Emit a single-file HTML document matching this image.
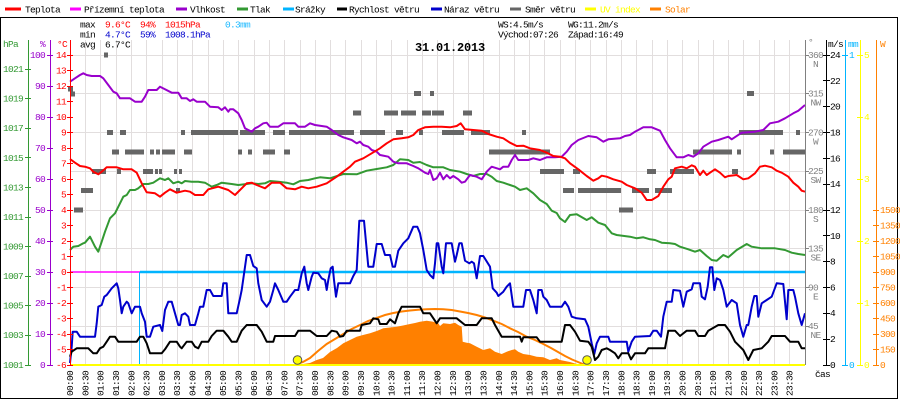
<!DOCTYPE html>
<html><head><meta charset="utf-8"><style>
html,body{margin:0;padding:0;background:#fff;}
svg{display:block;}
text{font-family:"Liberation Mono","DejaVu Sans Mono",monospace;font-size:9.5px;letter-spacing:-0.7px;}
</style></head><body>
<svg width="900" height="400" viewBox="0 0 900 400" xmlns="http://www.w3.org/2000/svg">
<rect x="0" y="0" width="900" height="400" fill="#fff"/>
<!-- frame -->
<g stroke="#000" stroke-width="1" shape-rendering="crispEdges" fill="none">
<line x1="0" y1="17.5" x2="898" y2="17.5"/>
<line x1="0.5" y1="17" x2="0.5" y2="399"/>
<line x1="897.5" y1="17" x2="897.5" y2="399"/>
<line x1="0" y1="398.5" x2="898" y2="398.5"/>
</g>
<!-- legend -->
<g stroke-width="3" shape-rendering="crispEdges">
<line x1="5" y1="9" x2="21" y2="9" stroke="#ff0000"/>
<line x1="70" y1="9" x2="81" y2="9" stroke="#ff00ff"/>
<line x1="176" y1="9" x2="187" y2="9" stroke="#9900cc"/>
<line x1="237" y1="9" x2="248" y2="9" stroke="#339933"/>
<line x1="283" y1="9" x2="294" y2="9" stroke="#00b4ff"/>
<line x1="337" y1="9" x2="347" y2="9" stroke="#000"/>
<line x1="431" y1="9" x2="442" y2="9" stroke="#0000cc"/>
<line x1="510" y1="9" x2="521" y2="9" stroke="#666"/>
<line x1="585" y1="9" x2="596" y2="9" stroke="#ffff00"/>
<line x1="650" y1="9" x2="661" y2="9" stroke="#ff8000"/>
</g>
<g fill="#000">
<text x="25" y="12.5">Teplota</text>
<text x="84" y="12.5">Přízemní teplota</text>
<text x="190" y="12.5">Vlhkost</text>
<text x="250" y="12.5">Tlak</text>
<text x="295" y="12.5">Srážky</text>
<text x="349" y="12.5">Rychlost větru</text>
<text x="444" y="12.5">Náraz větru</text>
<text x="525" y="12.5">Směr větru</text>
<text x="600" y="12.5" fill="#ffff00">UV index</text>
<text x="665" y="12.5" fill="#ff8000">Solar</text>
</g>
<!-- grid -->
<g stroke="#e2dede" stroke-width="1" shape-rendering="crispEdges" fill="none">
<path d="M85.5 40V365M100.5 40V365M116.5 40V365M131.5 40V365M146.5 40V365M162.5 40V365M177.5 40V365M192.5 40V365M208.5 40V365M223.5 40V365M238.5 40V365M254.5 40V365M269.5 40V365M284.5 40V365M300.5 40V365M315.5 40V365M330.5 40V365M345.5 40V365M361.5 40V365M376.5 40V365M391.5 40V365M407.5 40V365M422.5 40V365M437.5 40V365M453.5 40V365M468.5 40V365M483.5 40V365M499.5 40V365M514.5 40V365M529.5 40V365M544.5 40V365M560.5 40V365M575.5 40V365M590.5 40V365M606.5 40V365M621.5 40V365M636.5 40V365M652.5 40V365M667.5 40V365M682.5 40V365M698.5 40V365M713.5 40V365M728.5 40V365M743.5 40V365M759.5 40V365M774.5 40V365M789.5 40V365"/>
<path d="M70 55.5H805M70 93.5H805M70 132.5H805M70 171.5H805M70 210.5H805M70 248.5H805M70 287.5H805M70 326.5H805"/>
</g>
<!-- info text -->
<g>
<text x="80" y="27.5" fill="#000">max</text>
<text x="105" y="27.5" fill="#ff0000">9.6°C</text>
<text x="140" y="27.5" fill="#ff0000">94%</text>
<text x="165" y="27.5" fill="#ff0000">1015hPa</text>
<text x="225" y="27.5" fill="#1ab8ff">0.3mm</text>
<text x="80" y="37.5" fill="#000">min</text>
<text x="105" y="37.5" fill="#0000cc">4.7°C</text>
<text x="140" y="37.5" fill="#0000cc">59%</text>
<text x="165" y="37.5" fill="#0000cc">1008.1hPa</text>
<text x="80" y="47.5" fill="#000">avg</text>
<text x="105" y="47.5" fill="#000">6.7°C</text>
<text x="498" y="27.5" fill="#000">WS:4.5m/s</text>
<text x="568" y="27.5" fill="#000">WG:11.2m/s</text>
<text x="498" y="37.5" fill="#000">Východ:07:26</text>
<text x="568" y="37.5" fill="#000">Západ:16:49</text>
<text x="415" y="51" fill="#000" style="font-size:12px;font-weight:bold;letter-spacing:-0.2px">31.01.2013</text>
</g>
<!-- solar fill -->
<polygon fill="#ff8000" points="298,365 303,364 310,363 316.7,360 323,358 330,352 337,348 343.3,343.3 350,340 356.7,336.7 363,335 370,333.3 376.7,331 383.3,328.3 390,327.5 396.7,326.7 403,325.5 410,324 415,323 420,321.7 426.7,320.7 433.3,321.7 438.3,323.3 440,326 443.3,323.3 450,324 455,322.7 458.3,325 461.7,326.7 462.7,341.7 466.7,342.7 470,343.3 476.7,346.7 483.3,350 490,348.3 495,351.7 501.7,354 506.7,351.7 511.7,350 515,349.3 518.3,351.7 523.3,354 530,355 536.7,356.7 543.3,357.3 550,360 556.7,358.3 560,360 565,361 570,362 575,363.5 580,364.5 582,365"/>
<polyline fill="none" stroke="#ff8000" stroke-width="2" points="297,364 303,362 310,358 318,351 326.7,344 335,339 343.3,334 351.7,329 360,325 368,321 376.7,318 385,315 393.3,313 401.7,311.5 410,310.5 418,309.7 426.7,309.3 435,309 443.3,309.3 451.7,310 460,311.5 468,313 476.7,315 485,317.5 493.3,320.7 501.7,324 510,328.3 518,332 526.7,336.7 535,340 543.3,344 551,348 558,352 565,356 572,359.5 578,362 584,364.5"/>
<!-- wind direction -->
<g fill="#666" shape-rendering="crispEdges">
<rect x="68" y="86.5" width="5" height="5"/>
<rect x="71" y="91.5" width="4" height="5"/>
<rect x="74" y="207.5" width="9" height="5"/>
<rect x="81" y="188" width="12" height="5"/>
<rect x="92" y="169" width="14" height="5"/>
<rect x="104" y="52.5" width="4" height="5"/>
<rect x="107" y="130" width="6" height="5"/>
<rect x="112" y="149.5" width="7" height="5"/>
<rect x="117" y="169" width="4" height="5"/>
<rect x="120" y="130" width="6" height="5"/>
<rect x="125" y="149.5" width="19" height="5"/>
<rect x="143" y="169" width="10" height="5"/>
<rect x="155" y="169" width="3" height="5"/>
<rect x="159" y="169" width="3" height="5"/>
<rect x="150" y="149.5" width="4" height="5"/>
<rect x="156" y="149.5" width="4" height="5"/>
<rect x="162" y="149.5" width="13" height="5"/>
<rect x="174" y="169" width="3" height="5"/>
<rect x="179" y="169" width="3" height="5"/>
<rect x="176" y="188" width="4" height="5"/>
<rect x="181" y="130" width="4" height="5"/>
<rect x="184" y="149.5" width="8" height="5"/>
<rect x="191" y="130" width="47" height="5"/>
<rect x="240" y="130" width="25" height="5"/>
<rect x="238" y="149.5" width="4" height="5"/>
<rect x="248" y="149.5" width="4" height="5"/>
<rect x="263" y="149.5" width="12" height="5"/>
<rect x="273" y="130" width="12" height="5"/>
<rect x="284" y="149.5" width="6" height="5"/>
<rect x="289" y="130" width="65" height="5"/>
<rect x="353" y="110.5" width="8" height="5"/>
<rect x="360" y="130" width="25" height="5"/>
<rect x="384" y="110.5" width="14" height="5"/>
<rect x="396" y="130" width="7" height="5"/>
<rect x="401" y="110.5" width="15" height="5"/>
<rect x="414" y="91" width="7" height="5"/>
<rect x="419" y="130" width="4" height="5"/>
<rect x="422" y="110.5" width="9" height="5"/>
<rect x="430" y="91" width="4" height="5"/>
<rect x="432" y="110.5" width="12" height="5"/>
<rect x="442" y="130" width="22" height="5"/>
<rect x="463" y="110.5" width="9" height="5"/>
<rect x="471" y="130" width="19" height="5"/>
<rect x="489" y="149.5" width="61" height="5"/>
<rect x="522" y="130" width="4" height="5"/>
<rect x="540" y="169" width="24" height="5"/>
<rect x="573" y="169" width="7" height="5"/>
<rect x="563" y="188" width="11" height="5"/>
<rect x="578" y="188" width="43" height="5"/>
<rect x="619" y="207.5" width="14" height="5"/>
<rect x="632" y="188" width="17" height="5"/>
<rect x="647" y="169" width="9" height="5"/>
<rect x="655" y="188" width="17" height="5"/>
<rect x="670" y="169" width="24" height="5"/>
<rect x="693" y="149.5" width="39" height="5"/>
<rect x="732" y="169" width="6" height="5"/>
<rect x="737" y="149.5" width="4" height="5"/>
<rect x="739" y="130" width="44" height="5"/>
<rect x="747" y="91" width="7" height="5"/>
<rect x="770" y="149.5" width="4" height="5"/>
<rect x="783" y="149.5" width="22" height="5"/>
<rect x="796" y="130" width="4" height="5"/>
</g>
<!-- rain & apparent temp -->
<line x1="70" y1="272" x2="140" y2="272" stroke="#ff00ff" stroke-width="1.5"/>
<line x1="140" y1="272" x2="805" y2="272" stroke="#00b4ff" stroke-width="2.5"/>
<line x1="139.5" y1="272" x2="139.5" y2="365" stroke="#00b4ff" stroke-width="1"/>
<!-- series -->
<g fill="none" stroke-width="2" stroke-linejoin="round">
<polyline stroke="#339933" points="70,250 73.3,246.7 78.3,246 83.3,243.3 85,242.7 90,236.7 95,246.7 98.3,251.7 101.7,241.7 105,231.7 110,218.3 115,213.3 120,203.3 123.3,196.7 126.7,195 130,190 135,190 138.3,188.3 143.3,184 148.3,184 153.3,182.7 160,178.3 165,180 168.3,178.3 173.3,183.3 178.3,181.7 181.7,183.3 185,181 191.7,181.7 198.3,181.7 205,182.7 211.7,186.7 216.7,185 221.7,182.7 231.7,184 238.3,185 246.7,184 251.7,183.3 258.3,184 265,183.3 270,181 278.3,181.7 286.7,182.7 293.3,184.3 300,181 308.3,180 315,178.3 320,177.3 330,178.3 343.3,174 356.7,174.3 366.7,170.7 376.7,169 386.7,167.3 393.3,165 400,159.3 408.3,160 413.3,162.7 420,162 426.7,165 433.3,167.3 443.3,167.3 450,170 460,171.7 466.7,174 473.3,176 480,174 486.7,174 491.7,176.7 496.7,181 503.3,182.7 510,185 515,186.7 520,190 526.7,188.3 533.3,193.3 540,200 546.7,204 551.7,210.7 556.7,213 560,218.3 565,222 570,215 576.7,214.3 586.7,220 591.7,217.3 598.3,222.7 605,225 611.7,233.3 616.7,235 630,236.7 636.7,238.3 643.3,237.3 650,239.3 655,240 661.7,242.7 670,243.3 675,244 680,246.7 688.3,249.3 695,251.7 700,250 706.7,256 711.7,260 716.7,260.7 723.3,255 728.3,257.3 736.7,250 746.7,244 751.7,246.7 761.7,248.3 775,248.3 785,250 791.7,252.7 798.3,254 805,255"/>
<polyline stroke="#9900cc" points="70,81.7 75,78.3 80,75 83.3,73.3 86.7,75 91.7,76 100,76 103.3,78.3 108.3,85 113.3,91.7 116.7,93.3 120,98.3 130,98.3 135,101.7 141.7,101.7 145,96.7 148.3,90 156.7,90 160,86.7 165,89.3 171.7,92.7 178.3,92.7 181.7,98.3 186.7,98.3 190,101 193.3,99.3 196.7,101.7 205,101.7 210,106.7 218.3,107.3 221.7,110 225,107.3 228.3,111.7 230,109.3 233.3,109.3 238.3,113.3 241.7,120 245,128.3 248.3,130 251.7,131.7 255,128.3 258.3,126.7 263.3,123.3 266.7,122.7 270,126.7 278.3,126.7 283.3,123.3 295,123.3 298.3,126.7 305,126.7 310,123.3 315,125 326.7,126.7 331.7,130 338.3,135 343.3,137.3 351.7,140 356.7,143.3 360,141.7 363.3,145 368.3,146.7 371.7,150 376.7,151.7 380,155 388.3,156.7 393.3,161.7 398.3,163.3 406.7,163.3 413.3,166 418.3,168.3 425,172.7 428.3,174 430,170 433.3,180 436.7,178.3 440,172.7 443.3,179.3 446.7,175 450,178.3 453.3,176 458.3,179.3 461.7,182.7 465,181.7 470,175 476.7,176.7 481.7,179.3 486.7,171.7 491.7,166.7 500,169.3 503.3,166.7 508.3,166.7 511.7,160 515,155 518.3,160 528.3,160 533.3,158.3 540,160 546.7,157.3 555,157.3 561.7,156.7 566.7,151.7 571.7,145 578.3,140 588.3,136 596.7,137.3 603.3,141.7 608.3,139.3 620,138.3 625,136 630,135 635,131.7 643.3,127.3 651.7,127.3 660,130.7 665,140 670,148.3 676.7,157.3 683.3,157.3 688.3,155 693.3,156.7 698.3,153.3 703.3,146.7 711.7,141.7 718.3,140 723.3,138.3 728.3,136.7 731.7,139.3 741.7,132.7 755,131.7 763.3,130 770,123.3 778.3,121.7 785,118.3 793.3,113.3 798.3,110.7 805,105"/>
<polyline stroke="#ff0000" points="70,159 75,162.7 80,166 85,166.7 90,168.3 93.3,171.7 98.3,174.3 101.7,171.7 106.7,167.3 116.7,167.3 123.3,169.3 131.7,169.3 136.7,172.7 141.7,183.3 146.7,192.3 155,193.3 160,196.7 165,192.7 170,189.3 176.7,192.7 185,190.7 190,191.7 195,195 203.3,195 208.3,189.3 218.3,186.7 228.3,190 235,195 241.7,188.3 246.7,183.3 251.7,182.7 256.7,185 265,188.3 271.7,182.7 280,182.7 286.7,188.3 295,189.3 301.7,186.7 308.3,188.3 316.7,186.7 326.7,183.3 336.7,176.7 343.3,171.7 350,166.7 355,161.7 363.3,158.3 371.7,153.3 380,148.3 386.7,143.3 393.3,139.3 401.7,138.3 408.3,137.3 413.3,135 418.3,130 425,127.3 433.3,126.7 441.7,126.7 450,127.3 456.7,126 460.7,123.3 465,129.3 473.3,130 481.7,130.7 488.3,134 496.7,136.7 503.3,138.3 510,142.7 516.7,146 523.3,145.7 530,148.3 540,150 546.7,152.7 553.3,156 560,156.7 565,158.3 570,163.3 578.3,169.3 586.7,176 593.3,180.7 598.3,178.3 601.7,175.7 606.7,176.7 613.3,179.3 621.7,181.7 626.7,185 635,188.3 641.7,192.7 646.7,200 651.7,200 658.3,196 663.3,186.7 668.3,179.3 671.7,176.7 675,168.3 681.7,166.7 686.7,168.3 691.7,165.3 695,166.7 700,175 703.3,170.7 706.7,175 710,172.7 715,169.3 720,172.7 725,177.3 728.3,176 736.7,175 743.3,179.3 748.3,178.3 755,173.3 760,166.7 765,165.7 771.7,167.3 776.7,170.7 781.7,172.7 788.3,176.7 793.3,182.7 798.3,186.7 801.7,190.7 805,191.7"/>
<polyline stroke="#0000cc" points="70,363 71.7,346.7 72.7,331.7 76.7,331.7 80,336.7 95,336.7 96.7,323.3 98.3,306.7 101.7,305 104.3,296.7 106.7,295 111.7,288.3 116.7,283.3 118.3,288.3 120,300 121.7,313.3 123.3,306.7 126.7,301.7 128.3,303.3 130,308.3 131.7,313.3 135,306.7 140,306.7 141.7,313.3 145,321.7 146.7,336.7 150,336.7 153.3,326.7 160,325 162.3,331 165,310 168.3,301.7 171.7,301.7 175,313.3 178.3,325 180,325 181.7,315 185,313.3 188.3,316.7 190,325 195,325 198.3,313.3 200,306.7 203.3,306.7 206.7,290 210,290 213.3,296 221.7,296 223.3,283.3 226.7,283.3 228.3,313.3 236.7,313.3 240,298.3 241.7,290 246.7,255 250,255 253.3,266 256.7,268.3 258.3,283.3 261.7,300 266.7,306.7 270,301.7 273.3,290 275,283.3 278.3,290 283.3,301.7 286.7,301.7 290,296.7 295,290 298.3,290 301.7,273.3 304.3,266.7 306.7,283.3 308.3,290 311.7,276.7 313.3,272.7 318.3,273.3 321.7,278.3 325,280 326.7,290 328.3,280 330.7,268.3 332.7,266.7 334,280 336,296.7 338.3,283.3 350,283.3 353.3,276 356.7,270 359.3,220.7 364,220.7 368.3,266.7 373.3,266.7 376.7,244 381.7,244 385,255 390,255 392.7,266.7 395,266.7 398.3,250.7 403.3,243.3 408.3,238.3 413.3,226.7 417.3,226.7 420,233.3 423.3,250 426.7,270 430,275 433.3,278.3 435,263.3 436.7,243.3 438.3,243.3 441.7,266.7 443.3,273.3 446,243.3 451.7,243.3 455,261.7 456.7,255 459.3,243.3 461.7,243.3 465,260.7 469.3,263.3 471.7,261.7 474,263.3 476.7,278.3 480,256 483.3,256 490,266.7 492.7,288.3 496.7,292.7 498.3,296 503.3,291.7 506.7,286.7 510,283.3 513.3,306.7 523.3,306.7 526,290 530,290 533.3,300 536.7,313.3 538.3,290 541.7,290 543.3,296.7 546.7,300 550,306.7 561.7,306.7 565,301.7 568.3,306.7 571.7,316.7 576.7,318.3 585,319.3 588.3,326.7 591.7,343.3 594.3,354 596.7,343.3 600,336.7 608.3,336.7 610,341.7 626.7,341.7 628.3,351.7 631.7,341.7 635,336.7 650,336 653.3,330.7 656.7,330.7 661,336.7 663.3,316.7 666.7,301.7 671.7,301.7 673.3,290 680,290.7 683.3,306.7 686.7,291.7 691.7,289.3 693.3,283.3 700,283.3 701.7,296.7 705,299.3 707.7,286.7 710,267.3 712.3,267.3 714.3,290 716.7,278.3 720,280 723.3,290 726.7,306.7 731.7,300 736.7,303.3 740,325 743.3,336.7 746.7,325 748.3,325 751.7,306.7 754.3,296 756.7,296 758.3,316.7 761.7,303.3 766.7,300 771.7,296.7 776.7,283.3 783.3,284 786.7,319.3 788.3,290 793.3,290 795,296.7 798.3,313.3 801.7,325 805,313.3"/>
<polyline stroke="#000" points="70,356.7 71.7,351.7 76.7,348.3 88.3,348.3 93.3,353.3 96.7,353.3 100,348.3 103.3,346.7 106.7,341.7 110,336.7 115,336.7 118.3,341.7 136.7,341.7 140,336.7 143.3,336.7 146.7,343.3 150,353.3 161.7,353.3 165,349.3 170,341.7 176.7,341.7 180,346.7 181.7,348.3 186.7,341.7 191.7,341.7 195,346.7 198.3,348.3 201.7,341.7 208.3,341.7 211.7,336 216.7,330.7 223.3,330.7 228.3,336.7 231.7,341.7 236.7,341.7 241.7,330.7 246.7,325 256.7,325 261.7,331.7 266.7,341.7 273.3,341.7 275,336 295,336 298.3,330.7 310,330.7 316.7,336 326.7,336 331.7,330.7 336.7,331.7 340,336.7 343.3,336 346.7,330.7 360,330.7 361.7,325 370,323.3 373.3,318.3 378.3,319.3 380,324 386.7,324 390,319.3 395,323.3 398.3,313.3 401.7,306.7 420,306.7 423.3,313.3 430,313.3 436.7,323.3 440,318.3 456.7,318.3 465,325 476.7,325 481.7,318.3 491.7,318.3 495,325 501.7,336.7 520,336.7 521.7,341.7 523.3,337.3 536.7,337.3 540,341.7 561.7,341.7 565,325 570,325 575,331.7 580,340.7 588.3,341.7 591.7,346.7 595,360 598.3,356.7 601.7,350 606.7,348.3 610,350 615,353.3 618.3,358.3 621.7,353.3 628.3,353.3 631,359.3 635,353.3 645,353.3 648.3,348.3 665,348.3 668.3,330.7 675,330.7 680,336 686.7,330.7 695,330.7 698.3,336 705,336 708.3,330.7 718.3,325 725,325 730,331.7 735,341.7 743.3,350 748.3,360 753.3,350 761.7,348.3 768.3,341.7 771.7,336 785,336 790,341.7 798.3,341.7 801.7,348.3 805,348.3"/>
</g>
<!-- UV line at bottom -->
<line x1="70" y1="365" x2="805" y2="365" stroke="#ffff00" stroke-width="2"/>
<!-- sunrise/sunset -->
<circle cx="297.5" cy="360" r="4.3" fill="#ffff00" stroke="#555" stroke-width="1"/>
<circle cx="587" cy="360" r="4.3" fill="#ffff00" stroke="#555" stroke-width="1"/>
<!-- left axes -->
<g shape-rendering="crispEdges" stroke-width="1">
<line x1="28.5" y1="40" x2="28.5" y2="365" stroke="#339933"/>
<line x1="50.5" y1="40" x2="50.5" y2="365" stroke="#9900cc"/>
<line x1="70.5" y1="40" x2="70.5" y2="365" stroke="#ff0000"/>
<path stroke="#339933" d="M25 365.5H31M25 335.5H31M25 305.5H31M25 276.5H31M25 246.5H31M25 217.5H31M25 187.5H31M25 157.5H31M25 128.5H31M25 98.5H31M25 69.5H31"/>
<path stroke="#9900cc" d="M47 365.5H53M47 334.5H53M47 303.5H53M47 272.5H53M47 241.5H53M47 210.5H53M47 179.5H53M47 148.5H53M47 117.5H53M47 86.5H53M47 55.5H53"/>
<path stroke="#ff0000" d="M67 365.5H73M67 349.5H73M67 334.5H73M67 318.5H73M67 303.5H73M67 287.5H73M67 272.5H73M67 256.5H73M67 241.5H73M67 225.5H73M67 210.5H73M67 194.5H73M67 179.5H73M67 163.5H73M67 148.5H73M67 132.5H73M67 117.5H73M67 101.5H73M67 86.5H73M67 70.5H73M67 55.5H73"/>
</g>
<text x="3" y="47" fill="#339933">hPa</text>
<text x="40" y="47" fill="#9900cc">%</text>
<text x="57" y="47" fill="#ff0000">°C</text>
<g fill="#339933" text-anchor="end">
<text x="23" y="368">1001</text><text x="23" y="338">1003</text><text x="23" y="308.5">1005</text><text x="23" y="279">1007</text><text x="23" y="249.5">1009</text><text x="23" y="220">1011</text><text x="23" y="190.5">1013</text><text x="23" y="161">1015</text><text x="23" y="131">1017</text><text x="23" y="101.5">1019</text><text x="23" y="72">1021</text>
</g>
<g fill="#9900cc" text-anchor="end">
<text x="45" y="368">0</text><text x="45" y="337">10</text><text x="45" y="306">20</text><text x="45" y="275">30</text><text x="45" y="244">40</text><text x="45" y="213">50</text><text x="45" y="182">60</text><text x="45" y="151">70</text><text x="45" y="120">80</text><text x="45" y="89">90</text><text x="45" y="58">100</text>
</g>
<g fill="#ff0000" text-anchor="end">
<text x="66" y="368">-6</text><text x="66" y="352.5">-5</text><text x="66" y="337">-4</text><text x="66" y="321.5">-3</text><text x="66" y="306">-2</text><text x="66" y="290.5">-1</text><text x="66" y="275">0</text><text x="66" y="259.5">1</text><text x="66" y="244">2</text><text x="66" y="228.5">3</text><text x="66" y="213">4</text><text x="66" y="197.5">5</text><text x="66" y="182">6</text><text x="66" y="166.5">7</text><text x="66" y="151">8</text><text x="66" y="135.5">9</text><text x="66" y="120">10</text><text x="66" y="104.5">11</text><text x="66" y="89">12</text><text x="66" y="73.5">13</text><text x="66" y="58">14</text>
</g>
<!-- right axes -->
<g shape-rendering="crispEdges" stroke-width="1">
<line x1="805.5" y1="40" x2="805.5" y2="365" stroke="#808080"/>
<line x1="826.5" y1="40" x2="826.5" y2="366" stroke="#000"/>
<line x1="845.5" y1="40" x2="845.5" y2="366" stroke="#00b4ff"/>
<line x1="860.5" y1="40" x2="860.5" y2="366" stroke="#ffff00"/>
<line x1="876.5" y1="40" x2="876.5" y2="366" stroke="#ff8000"/>
<path stroke="#808080" d="M805 55.5H809M805 93.5H809M805 132.5H809M805 171.5H809M805 210.5H809M805 248.5H809M805 287.5H809M805 326.5H809"/>
<path stroke="#000" d="M823 365.5H830M823 339.5H830M823 313.5H830M823 287.5H830M823 261.5H830M823 235.5H830M823 210.5H830M823 184.5H830M823 158.5H830M823 132.5H830M823 106.5H830M823 80.5H830M823 55.5H830"/>
<path stroke="#00b4ff" d="M842 365.5H848M842 55.5H848"/>
<path stroke="#ffff00" d="M857 365.5H863M857 303.5H863M857 241.5H863M857 179.5H863M857 117.5H863M857 55.5H863"/>
<path stroke="#ff8000" d="M873 365.5H879M873 349.5H879M873 334.5H879M873 318.5H879M873 303.5H879M873 287.5H879M873 272.5H879M873 256.5H879M873 241.5H879M873 225.5H879M873 210.5H879"/>
</g>
<text x="808" y="45" fill="#808080">°</text>
<text x="828" y="47" fill="#000">m/s</text>
<text x="848" y="47" fill="#00b4ff">mm</text>
<text x="880" y="47" fill="#ff8000">W</text>
<g fill="#808080">
<text x="808" y="58">360</text><text x="815.5" y="67" text-anchor="middle">N</text>
<text x="808" y="96.5">315</text><text x="815.5" y="105.5" text-anchor="middle">NW</text>
<text x="808" y="135.5">270</text><text x="815.5" y="144.5" text-anchor="middle">W</text>
<text x="808" y="174">225</text><text x="815.5" y="183" text-anchor="middle">SW</text>
<text x="808" y="213">180</text><text x="815.5" y="222" text-anchor="middle">S</text>
<text x="808" y="251.5">135</text><text x="815.5" y="260.5" text-anchor="middle">SE</text>
<text x="808" y="290.5">90</text><text x="815.5" y="299.5" text-anchor="middle">E</text>
<text x="808" y="329">45</text><text x="815.5" y="338" text-anchor="middle">NE</text>
</g>
<g fill="#000">
<text x="830" y="368">0</text><text x="830" y="342">2</text><text x="830" y="316">4</text><text x="830" y="290.5">6</text><text x="830" y="264.5">8</text><text x="830" y="239">10</text><text x="830" y="213">12</text><text x="830" y="187">14</text><text x="830" y="161.5">16</text><text x="830" y="135.5">18</text><text x="830" y="109.5">20</text><text x="830" y="84">22</text><text x="830" y="58">24</text>
</g>
<g fill="#00b4ff"><text x="849" y="368">0</text><text x="849" y="58">1</text></g>
<g fill="#ffff00">
<text x="864" y="368">0</text><text x="864" y="306">1</text><text x="864" y="244">2</text><text x="864" y="182">3</text><text x="864" y="120">4</text><text x="864" y="58">5</text>
</g>
<g fill="#ff8000">
<text x="880" y="368">0</text><text x="880" y="352.5">150</text><text x="880" y="337">300</text><text x="880" y="321.5">450</text><text x="880" y="306">600</text><text x="880" y="290.5">750</text><text x="880" y="275">900</text><text x="880" y="259.5">1050</text><text x="880" y="244">1200</text><text x="880" y="228.5">1350</text><text x="880" y="213">1500</text>
</g>
<text x="815" y="377" fill="#000">čas</text>
<!-- time labels -->
<g fill="#000">
<text transform="translate(73,396) rotate(-90)">00:00</text>
<text transform="translate(88.3,396) rotate(-90)">00:30</text>
<text transform="translate(103.6,396) rotate(-90)">01:00</text>
<text transform="translate(118.9,396) rotate(-90)">01:30</text>
<text transform="translate(134.3,396) rotate(-90)">02:00</text>
<text transform="translate(149.6,396) rotate(-90)">02:30</text>
<text transform="translate(164.9,396) rotate(-90)">03:00</text>
<text transform="translate(180.2,396) rotate(-90)">03:30</text>
<text transform="translate(195.5,396) rotate(-90)">04:00</text>
<text transform="translate(210.8,396) rotate(-90)">04:30</text>
<text transform="translate(226.1,396) rotate(-90)">05:00</text>
<text transform="translate(241.4,396) rotate(-90)">05:30</text>
<text transform="translate(256.8,396) rotate(-90)">06:00</text>
<text transform="translate(272.1,396) rotate(-90)">06:30</text>
<text transform="translate(287.4,396) rotate(-90)">07:00</text>
<text transform="translate(302.7,396) rotate(-90)">07:30</text>
<text transform="translate(318,396) rotate(-90)">08:00</text>
<text transform="translate(333.3,396) rotate(-90)">08:30</text>
<text transform="translate(348.6,396) rotate(-90)">09:00</text>
<text transform="translate(363.9,396) rotate(-90)">09:30</text>
<text transform="translate(379.3,396) rotate(-90)">10:00</text>
<text transform="translate(394.6,396) rotate(-90)">10:30</text>
<text transform="translate(409.9,396) rotate(-90)">11:00</text>
<text transform="translate(425.2,396) rotate(-90)">11:30</text>
<text transform="translate(440.5,396) rotate(-90)">12:00</text>
<text transform="translate(455.8,396) rotate(-90)">12:30</text>
<text transform="translate(471.1,396) rotate(-90)">13:00</text>
<text transform="translate(486.4,396) rotate(-90)">13:30</text>
<text transform="translate(501.8,396) rotate(-90)">14:00</text>
<text transform="translate(517.1,396) rotate(-90)">14:30</text>
<text transform="translate(532.4,396) rotate(-90)">15:00</text>
<text transform="translate(547.7,396) rotate(-90)">15:30</text>
<text transform="translate(563,396) rotate(-90)">16:00</text>
<text transform="translate(578.3,396) rotate(-90)">16:30</text>
<text transform="translate(593.6,396) rotate(-90)">17:00</text>
<text transform="translate(608.9,396) rotate(-90)">17:30</text>
<text transform="translate(624.3,396) rotate(-90)">18:00</text>
<text transform="translate(639.6,396) rotate(-90)">18:30</text>
<text transform="translate(654.9,396) rotate(-90)">19:00</text>
<text transform="translate(670.2,396) rotate(-90)">19:30</text>
<text transform="translate(685.5,396) rotate(-90)">20:00</text>
<text transform="translate(700.8,396) rotate(-90)">20:30</text>
<text transform="translate(716.1,396) rotate(-90)">21:00</text>
<text transform="translate(731.4,396) rotate(-90)">21:30</text>
<text transform="translate(746.8,396) rotate(-90)">22:00</text>
<text transform="translate(762.1,396) rotate(-90)">22:30</text>
<text transform="translate(777.4,396) rotate(-90)">23:00</text>
<text transform="translate(792.7,396) rotate(-90)">23:30</text>
</g>
</svg>
</body></html>
